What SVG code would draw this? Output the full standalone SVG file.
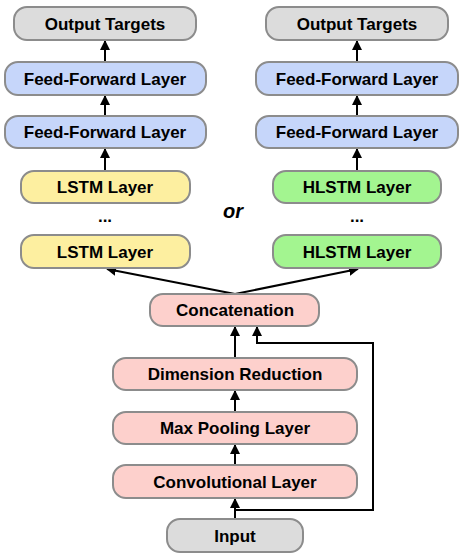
<svg xmlns="http://www.w3.org/2000/svg" width="463" height="556" viewBox="0 0 463 556">
<style>
.b{stroke:#8c8c8c;stroke-width:2}
.g{fill:#dcdcdc}.bl{fill:#c6d6fa}.y{fill:#fdefa0}.gr{fill:#a3f590}.p{fill:#fdd0cc}
text{font-family:"Liberation Sans",Arial,sans-serif;font-weight:bold;font-size:17px;text-anchor:middle;fill:#000}
.c path,.c line,.c polyline{stroke:#000;stroke-width:2;fill:none}
</style>
<defs>
<marker id="ah" viewBox="0 0 10 10" refX="9" refY="5" markerWidth="5" markerHeight="5" orient="auto" markerUnits="strokeWidth">
<path d="M0,0 L10,5 L0,10 z" fill="#000"/>
</marker>
</defs>
<g class="c">
<line x1="105" y1="62" x2="105" y2="41" marker-end="url(#ah)"/>
<line x1="105" y1="116" x2="105" y2="96" marker-end="url(#ah)"/>
<line x1="105" y1="171" x2="105" y2="149" marker-end="url(#ah)"/>
<line x1="357" y1="62" x2="357" y2="41" marker-end="url(#ah)"/>
<line x1="357" y1="116" x2="357" y2="96" marker-end="url(#ah)"/>
<line x1="357" y1="171" x2="357" y2="149" marker-end="url(#ah)"/>
<polyline points="235,294 107,269" marker-end="url(#ah)"/>
<polyline points="235,294 358,269" marker-end="url(#ah)"/>
<line x1="235" y1="358" x2="235" y2="327" marker-end="url(#ah)"/>
<line x1="235" y1="412" x2="235" y2="391" marker-end="url(#ah)"/>
<line x1="235" y1="465" x2="235" y2="445" marker-end="url(#ah)"/>
<line x1="235" y1="519" x2="235" y2="499" marker-end="url(#ah)"/>
<polyline points="235,510 373,510 373,343 257,343 257,327" marker-end="url(#ah)"/>
</g>
<g id="out-l"><rect class="b g" x="14" y="7" width="182" height="33" rx="13"/><text x="105" y="29.5">Output Targets</text></g>
<g id="ff1-l"><rect class="b bl" x="5" y="62" width="201" height="33" rx="13"/><text x="105" y="84.5">Feed-Forward Layer</text></g>
<g id="ff2-l"><rect class="b bl" x="5" y="116" width="201" height="32" rx="13"/><text x="105" y="138">Feed-Forward Layer</text></g>
<g id="lstm1"><rect class="b y" x="21" y="171" width="169" height="32" rx="13"/><text x="105" y="193">LSTM Layer</text></g>
<text x="105" y="222">...</text>
<g id="lstm2"><rect class="b y" x="21" y="235" width="169" height="33" rx="13"/><text x="105" y="257.5">LSTM Layer</text></g>
<g id="out-r"><rect class="b g" x="266" y="7" width="182" height="33" rx="13"/><text x="357" y="29.5">Output Targets</text></g>
<g id="ff1-r"><rect class="b bl" x="256" y="62" width="202" height="33" rx="13"/><text x="357" y="84.5">Feed-Forward Layer</text></g>
<g id="ff2-r"><rect class="b bl" x="256" y="116" width="202" height="32" rx="13"/><text x="357" y="138">Feed-Forward Layer</text></g>
<g id="hlstm1"><rect class="b gr" x="273" y="171" width="168" height="32" rx="13"/><text x="357" y="193">HLSTM Layer</text></g>
<text x="357" y="222">...</text>
<g id="hlstm2"><rect class="b gr" x="273" y="235" width="168" height="33" rx="13"/><text x="357" y="257.5">HLSTM Layer</text></g>
<text x="233" y="218" style="font-style:italic;font-size:20px">or</text>
<g id="concat"><rect class="b p" x="150" y="294" width="169" height="32" rx="13"/><text x="235" y="316">Concatenation</text></g>
<g id="dimred"><rect class="b p" x="113" y="358" width="244" height="32" rx="13"/><text x="235" y="380">Dimension Reduction</text></g>
<g id="maxpool"><rect class="b p" x="113" y="412" width="244" height="32" rx="13"/><text x="235" y="434">Max Pooling Layer</text></g>
<g id="conv"><rect class="b p" x="113" y="465" width="244" height="33" rx="13"/><text x="235" y="487.5">Convolutional Layer</text></g>
<g id="input"><rect class="b g" x="167" y="519" width="136" height="33" rx="13"/><text x="235" y="541.5">Input</text></g>
</svg>
